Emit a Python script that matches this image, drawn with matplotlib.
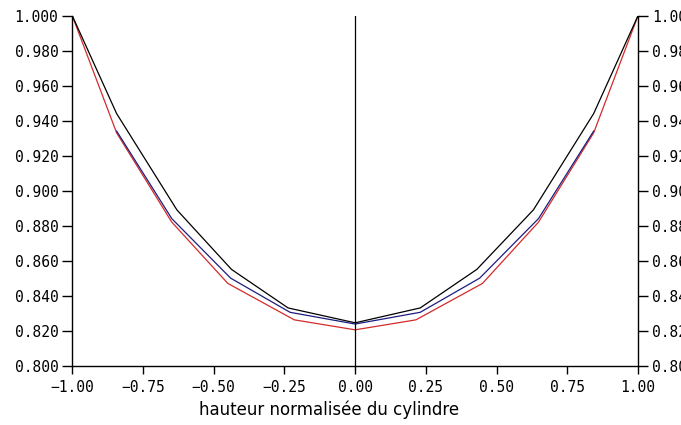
import matplotlib
matplotlib.use("Agg")
import matplotlib.pyplot as plt
import numpy as np

# black curve
x_black = [-1.0, -0.843, -0.63, -0.437, -0.237, 0.0, 0.23, 0.43, 0.63, 0.843, 1.0]
y_black = [1.000, 0.944, 0.889, 0.855, 0.833, 0.8245, 0.833, 0.855, 0.889, 0.944, 1.000]

# blue curve
x_blue = [-0.843, -0.648, -0.44, -0.23, 0.0, 0.23, 0.44, 0.648, 0.843]
y_blue = [0.934, 0.884, 0.850, 0.8305, 0.8238, 0.8305, 0.850, 0.884, 0.934]

# red curve
x_red = [-1.0, -0.843, -0.648, -0.45, -0.215, 0.0, 0.215, 0.45, 0.648, 0.843, 1.0]
y_red = [1.000, 0.933, 0.882, 0.847, 0.8262, 0.8205, 0.8262, 0.847, 0.882, 0.933, 1.000]

xticks = np.arange(-1.0, 1.01, 0.25)
yticks = np.arange(0.80, 1.001, 0.02)

fig = plt.figure(figsize=(6.81, 4.25), dpi=100)
ax = fig.add_axes([0.106, 0.1395, 0.831, 0.824])

ax.plot(x_red, y_red, color="#d42a2a", lw=0.9)
ax.plot(x_blue, y_blue, color="#1c1c80", lw=0.9)
ax.plot(x_black, y_black, color="black", lw=0.9)
ax.axvline(0, color="black", lw=0.9)

ax.set_xlim(-1, 1)
ax.set_ylim(0.8, 1.0)
ax.spines["top"].set_visible(False)
for s in ["left", "right", "bottom"]:
    ax.spines[s].set_linewidth(1.0)

mono = "DejaVu Sans Mono"
ax.set_xticks(xticks)
ax.set_xticklabels([f"{v:.2f}".replace("-", "\u2212") for v in xticks], family=mono, fontsize=10.5)
ax.set_yticks(yticks)
# right-hand labels run off the figure edge, as in the original
ax.set_yticklabels([f"{v:.3f}" for v in yticks], family=mono, fontsize=10.5)
ax.tick_params(axis="y", direction="out", length=7, width=1, pad=3,
               left=True, right=True, labelleft=True, labelright=True)
ax.tick_params(axis="x", direction="out", length=6, width=1, pad=4)

fig.text(329 / 681, 1 - 410 / 425, "hauteur normalisée du cylindre",
         ha="center", va="center", fontsize=12, family="DejaVu Sans")

fig.savefig("out.png", dpi=100)
